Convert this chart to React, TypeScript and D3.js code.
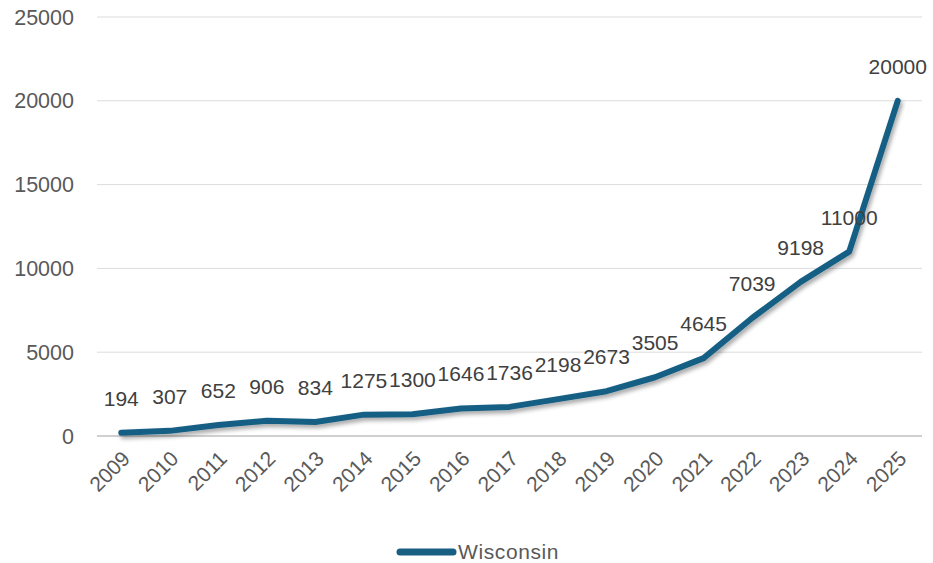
import React from "react";
import * as d3 from "d3";

const years = ["2009","2010","2011","2012","2013","2014","2015","2016","2017","2018","2019","2020","2021","2022","2023","2024","2025"];
const wisconsin = [194,307,652,906,834,1275,1300,1646,1736,2198,2673,3505,4645,7039,9198,11000,20000];
const yTicks = [0,5000,10000,15000,20000,25000];
const seriesName = "Wisconsin";

const W = 933, H = 563;
const margin = { left: 97, right: 11, top: 17, bottom: 127 };
const FONT = "'Liberation Sans', Arial, sans-serif";
const LINE = "#195f84";

export default function App() {
  const x = d3.scaleBand().domain(years).range([margin.left, W - margin.right]);
  const y = d3.scaleLinear().domain([0, 25000]).range([H - margin.bottom, margin.top]);
  const cx = (d: string) => (x(d) as number) + x.bandwidth() / 2;
  const line = d3.line<number>().x((_, i) => cx(years[i])).y((v) => y(v));
  return (
    <svg width={W} height={H} style={{ position: "absolute", left: 0, top: 0, background: "#fff" }} fontFamily={FONT}>
      <defs>
        <filter id="sh" x="-10%" y="-10%" width="120%" height="130%">
          <feDropShadow dx="2" dy="3" stdDeviation="2" floodColor="#000" floodOpacity="0.35" />
        </filter>
      </defs>
      {yTicks.map((t) => (
        <g key={t}>
          <line x1={margin.left} x2={W - margin.right} y1={y(t)} y2={y(t)} stroke={t === 0 ? "#d0d0d0" : "#dcdcdc"} strokeWidth={t === 0 ? 2 : 1} />
          <text x={74} y={y(t)} dy="0.35em" textAnchor="end" fontSize={21.5} fill="#595959">{t}</text>
        </g>
      ))}
      {years.map((yr) => (
        <text key={yr} transform={`translate(${cx(yr) + 10},${y(0) + 24}) rotate(-45)`} textAnchor="end" fontSize={21} fill="#595959">{yr}</text>
      ))}
      <path d={line(wisconsin) || ""} fill="none" stroke={LINE} strokeWidth={6} strokeLinejoin="round" strokeLinecap="round" filter="url(#sh)" />
      {wisconsin.map((v, i) => (
        <text key={i} x={cx(years[i])} y={y(v) - 27} textAnchor="middle" fontSize={21} fill="#404040">{v}</text>
      ))}
      <line x1={400} x2={453} y1={552} y2={552} stroke={LINE} strokeWidth={7} strokeLinecap="round" />
      <text x={458} y={552} dy="0.35em" fontSize={21} letterSpacing={0.6} fill="#595959">{seriesName}</text>
    </svg>
  );
}
